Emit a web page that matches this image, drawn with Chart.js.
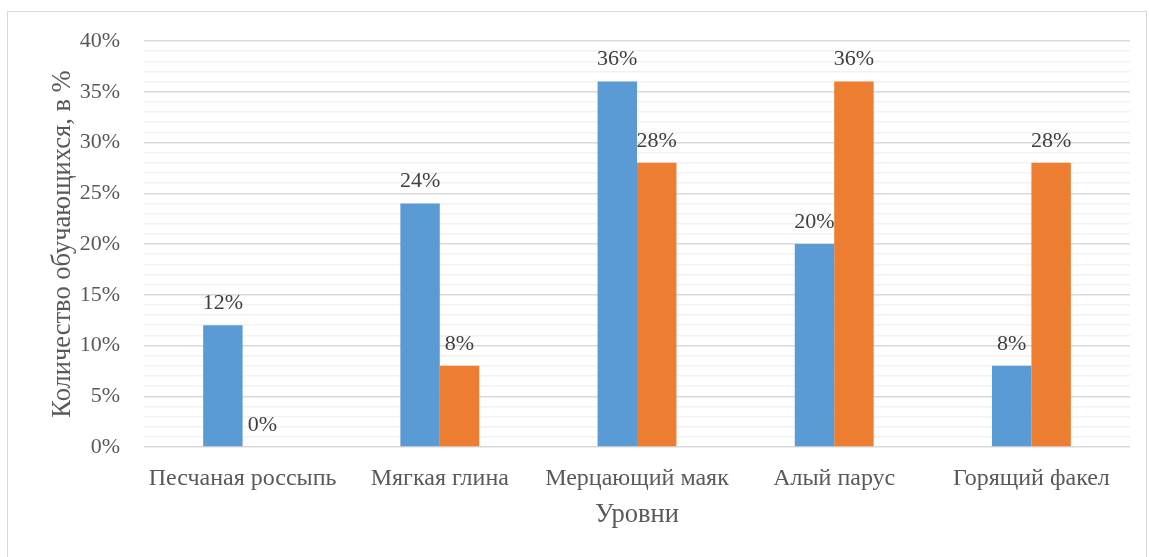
<!DOCTYPE html>
<html lang="ru">
<head>
<meta charset="UTF-8">
<title>Уровни</title>
<script src="https://cdn.jsdelivr.net/npm/chart.js"></script>
<style>
  body{margin:0;background:#fff;}
  .frame{position:absolute;left:7px;top:11px;width:1140px;height:560px;border:1px solid #d9d9d9;box-sizing:border-box;}
  .wrap{position:absolute;left:0;top:0;width:1149px;height:557px;}
</style>
</head>
<body>
<div class="frame"></div>
<div class="wrap"><canvas id="grafico" width="1149" height="557"></canvas></div>
<script>
// данные
var urovni = ['Песчаная россыпь', 'Мягкая глина', 'Мерцающий маяк', 'Алый парус', 'Горящий факел']
var seriya1 = [12, 24, 36, 20, 8]
var seriya2 = [0, 8, 28, 36, 28]
var yMax = 40

var shrift = '"Liberation Serif", "Times New Roman", serif'

// подписи над столбцами
const podpisi = {
  id: 'podpisi',
  afterDatasetsDraw(chart){
    const ctx = chart.ctx
    ctx.save()
    ctx.font = '22px ' + shrift
    ctx.fillStyle = '#404040'
    ctx.textAlign = 'center'
    ctx.textBaseline = 'middle'
    chart.data.datasets.forEach((ds, i) => {
      chart.getDatasetMeta(i).data.forEach((bar, j) => {
        ctx.fillText(ds.data[j] + '%', bar.x, bar.y - 22)
      })
    })
    ctx.restore()
  }
}

const ctx = document.getElementById('grafico')

new Chart(ctx, {
  type: 'bar',
  data: {
    labels: urovni,
    datasets: [
      {label: 'Ряд 1', data: seriya1, backgroundColor: '#5b9bd5', categoryPercentage: 0.4, barPercentage: 1},
      {label: 'Ряд 2', data: seriya2, backgroundColor: '#ed7d31', categoryPercentage: 0.4, barPercentage: 1}
    ]
  },
  options: {
    responsive: false,
    animation: false,
    layout: {autoPadding: false, padding: {left: 47, right: 19, top: 41, bottom: 26}},
    plugins: {legend: {display: false}, tooltip: {enabled: false}},
    scales: {
      x: {
        afterFit(scale){ scale.height = 84 },
        grid: {display: false},
        border: {display: false},
        ticks: {color: '#595959', font: {family: shrift, size: 24}, padding: 9, maxRotation: 0},
        title: {display: true, text: 'Уровни', color: '#595959', font: {family: shrift, size: 26.5}, padding: {top: 4, bottom: 0}}
      },
      y: {
        min: 0,
        max: yMax,
        afterFit(scale){ scale.width = 97 },
        border: {display: false},
        grid: {
          drawTicks: false,
          tickLength: 0,
          lineWidth: 1.5,
          color: c => (c.tick && c.tick.value % 5 === 0) ? '#d9d9d9' : '#f2f2f2'
        },
        ticks: {
          stepSize: 1,
          autoSkip: false,
          padding: 24,
          color: '#595959',
          font: {family: shrift, size: 22},
          callback: v => (v % 5 === 0) ? v + '%' : ''
        },
        title: {display: true, text: 'Количество обучающихся, в %', color: '#595959', font: {family: shrift, size: 26.5}, padding: {top: 0, bottom: 0}}
      }
    }
  },
  plugins: [podpisi]
})
</script>
</body>
</html>
